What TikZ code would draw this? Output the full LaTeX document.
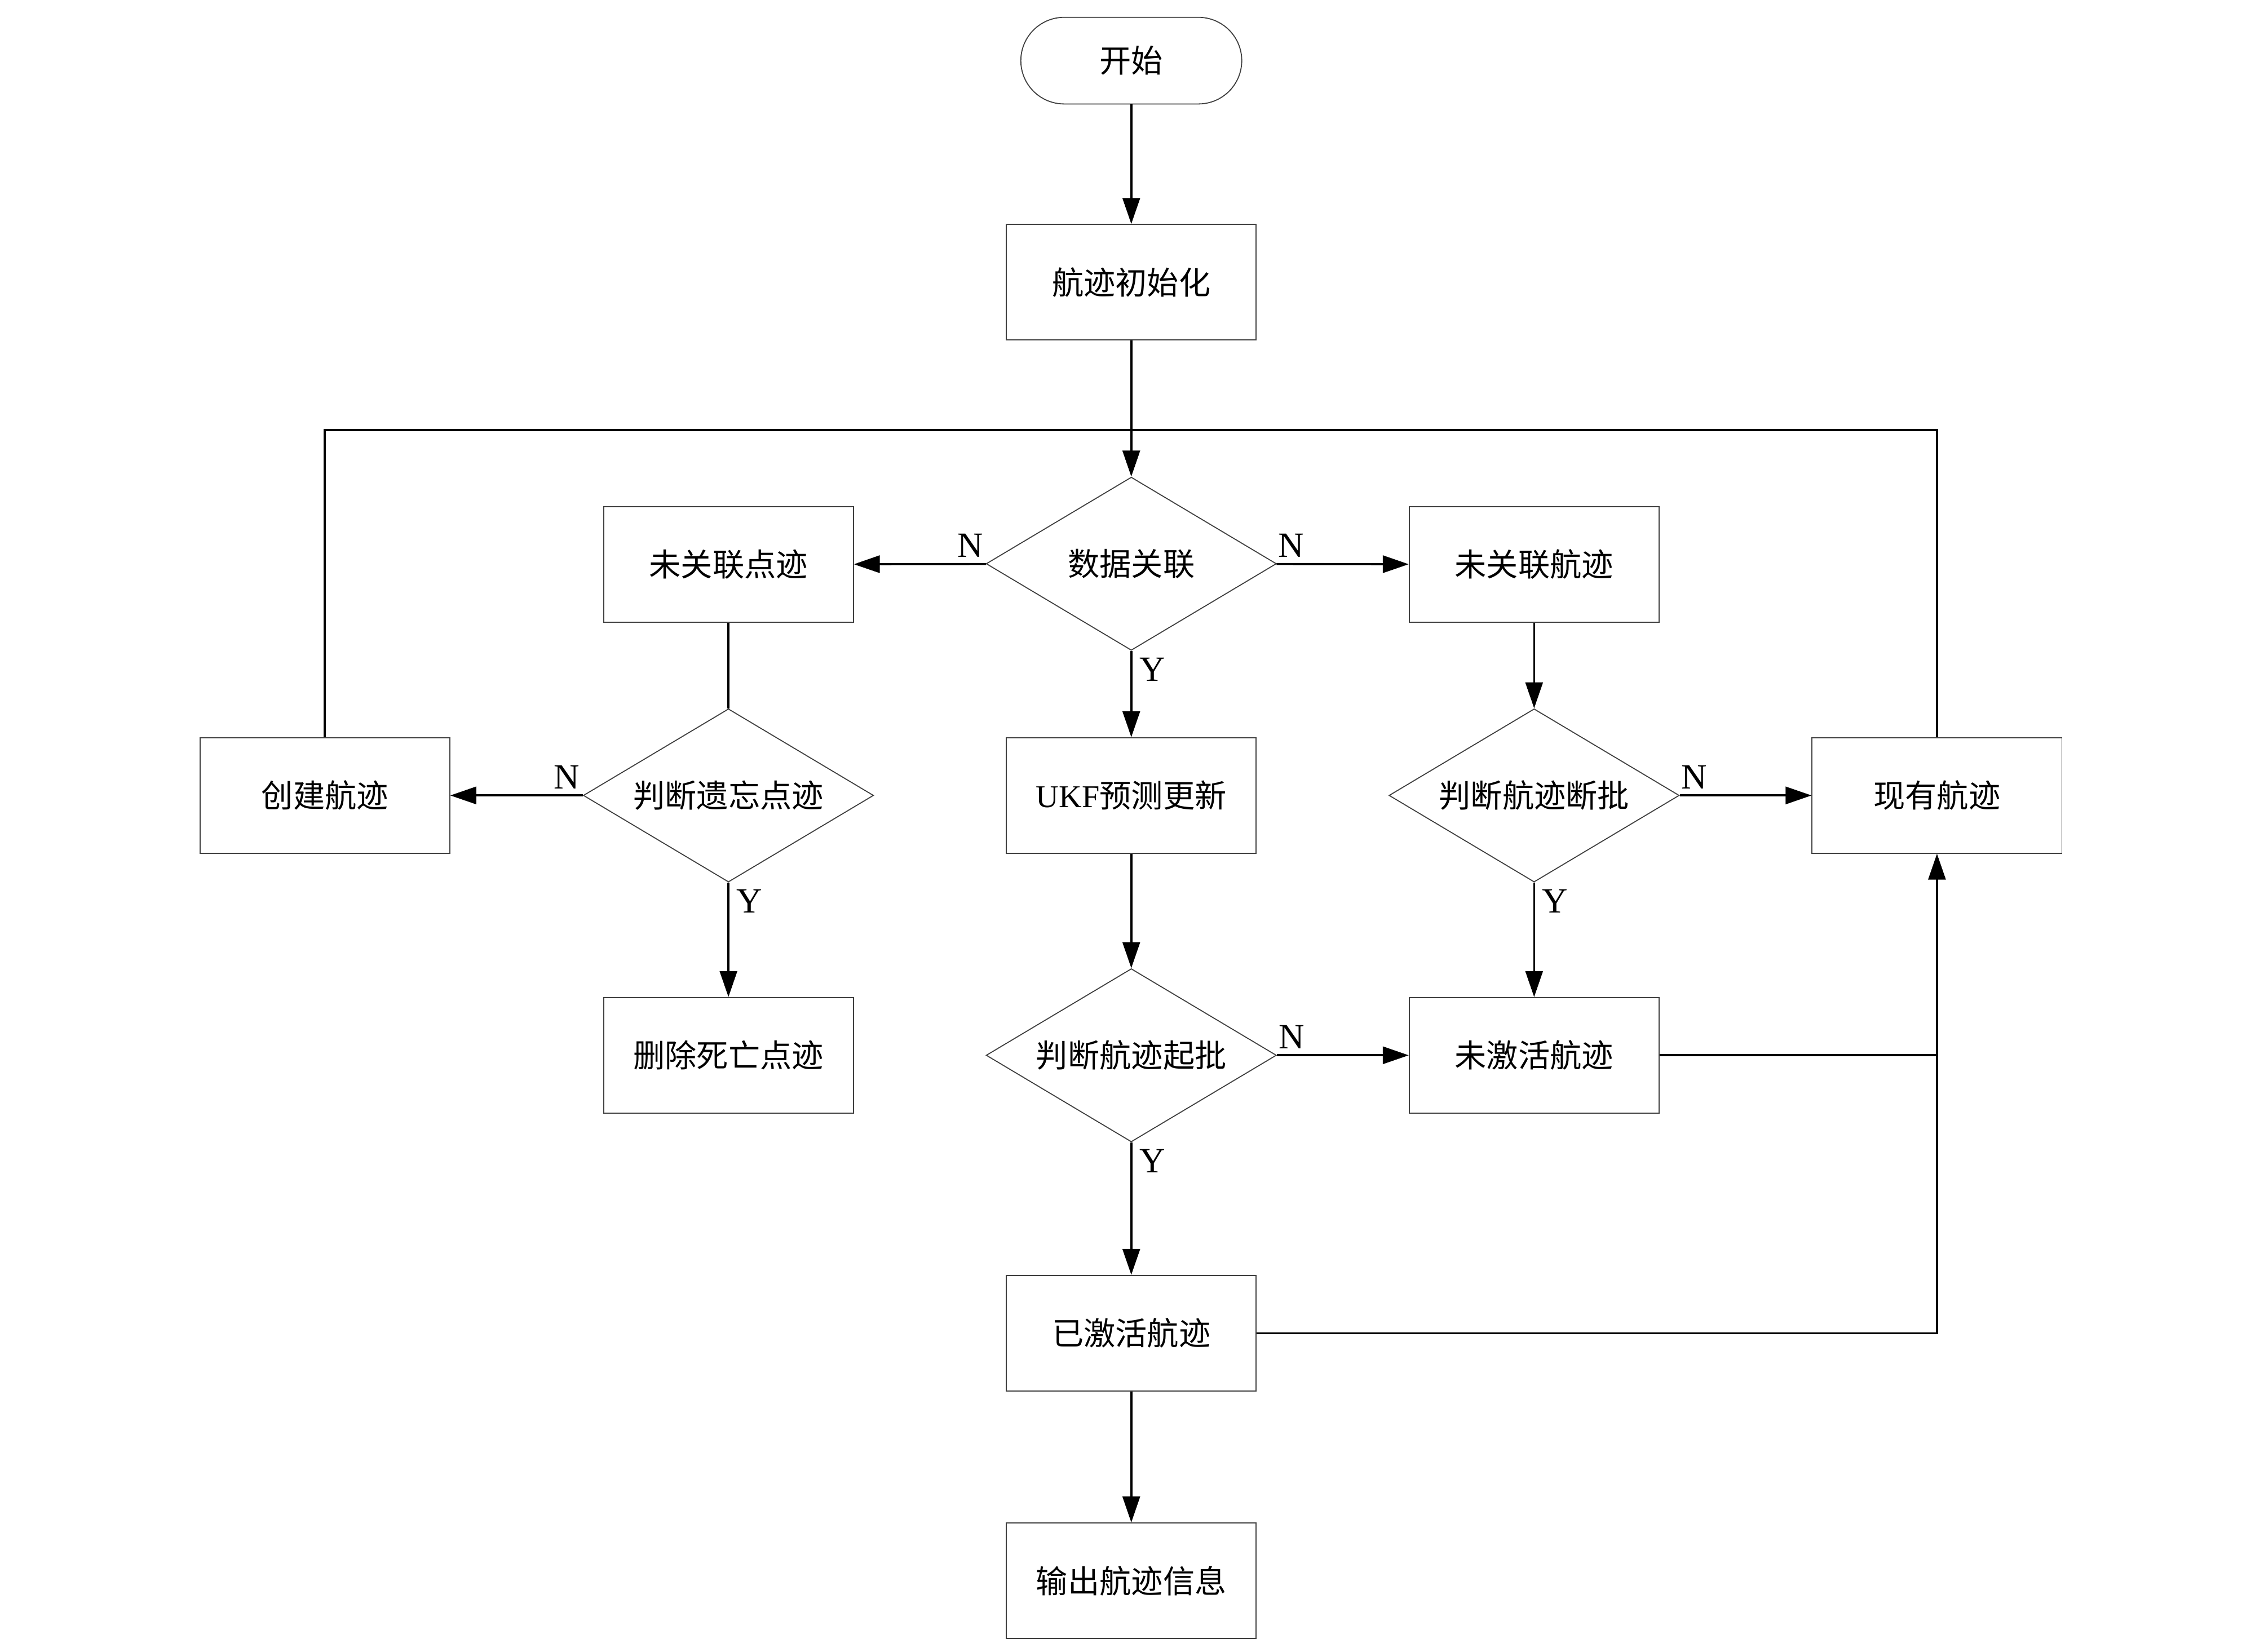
\documentclass[tikz,border=0pt]{standalone}
\usepackage{fontspec}
\setmainfont{Liberation Serif}
\newfontfamily\cjk{Noto Sans CJK SC}
\usetikzlibrary{shapes.geometric, arrows.meta}

\begin{document}
\begin{tikzpicture}[x=0.2mm, y=-0.2mm, >={Triangle[length=3.6mm, width=2.4mm]},
  box/.style={draw=black!75, line width=0.4pt, minimum width=34.6mm, minimum height=16mm,
    inner sep=0pt, font=\fontsize{12.5}{15}\selectfont\cjk},
  term/.style={box, minimum width=30.6mm, minimum height=12mm, rounded corners=6mm},
  decide/.style={box, diamond, aspect=1.675, minimum width=40.2mm, minimum height=24mm},
  line/.style={line width=0.8pt},
  yn/.style={font=\fontsize{14}{16}\selectfont\rmfamily, inner sep=0pt, pos=0},
  nl/.style={yn, anchor=south east, xshift=-0.3mm, yshift=0.8mm},
  nr/.style={yn, anchor=south west, xshift=0.1mm, yshift=0.8mm},
  yb/.style={yn, anchor=north west, xshift=1mm, yshift=-0.8mm}]
  \useasboundingbox (0,0) rectangle (1568,1144);

  \node[term] (start) at (783.5,42) {开始};
  \node[box] (init) at (783.5,195.5) {航迹初始化};
  \node[decide] (data) at (783.5,390.5) {数据关联};
  \node[box] (unpt) at (504.5,391) {未关联点迹};
  \node[box] (untr) at (1062.5,391) {未关联航迹};
  \node[box] (create) at (225,551) {创建航迹};
  \node[decide] (forget) at (504.5,551) {判断遗忘点迹};
  \node[box] (ukf) at (783.5,551) {{\rmfamily UKF}预测更新};
  \node[decide] (break) at (1062.5,551) {判断航迹断批};
  \node[box] (exist) at (1341.5,551) {现有航迹};
  \node[box] (del) at (504.5,731) {删除死亡点迹};
  \node[decide] (begin) at (783.5,731) {判断航迹起批};
  \node[box] (inact) at (1062.5,731) {未激活航迹};
  \node[box] (act) at (783.5,923.5) {已激活航迹};
  \node[box] (out) at (783.5,1095) {输出航迹信息};
  \coordinate (loop) at (783.5,298);

  \draw[line,->] (start) -- (init);
  \draw[line,->] (init) -- (data);
  \draw[line] (create) |- (loop) -| (exist);
  \draw[line,->] (data) -- node[nl] {N} (unpt);
  \draw[line,->] (data) -- node[nr] {N} (untr);
  \draw[line,->] (data) -- node[yb] {Y} (ukf);
  \draw[line] (unpt) -- (forget);
  \draw[line,->] (forget) -- node[nl] {N} (create);
  \draw[line,->] (forget) -- node[yb] {Y} (del);
  \draw[line,->] (untr) -- (break);
  \draw[line,->] (break) -- node[nr] {N} (exist);
  \draw[line,->] (break) -- node[yb] {Y} (inact);
  \draw[line,->] (ukf) -- (begin);
  \draw[line,->] (begin) -- node[nr] {N} (inact);
  \draw[line,->] (begin) -- node[yb] {Y} (act);
  \draw[line] (inact) -- (inact -| exist);
  \draw[line,->] (act) -| (exist);
  \draw[line,->] (act) -- (out);
\end{tikzpicture}
\end{document}
